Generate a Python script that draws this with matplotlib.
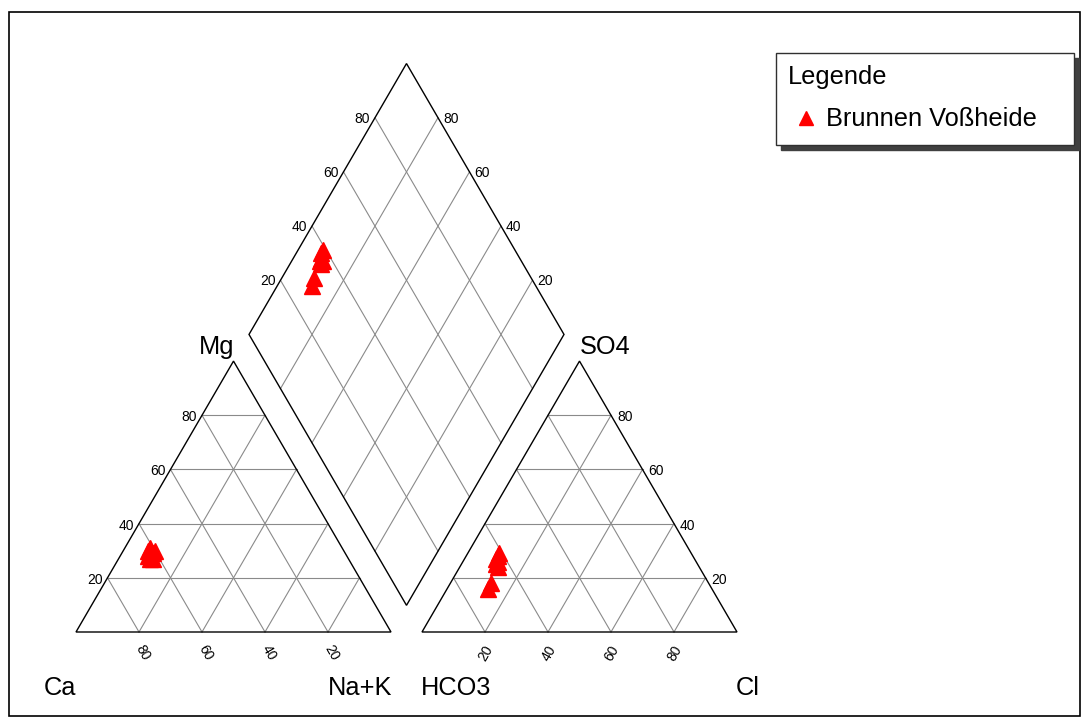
import numpy as np
import matplotlib
matplotlib.use("Agg")
import matplotlib.pyplot as plt
from matplotlib.patches import Rectangle, Polygon
from matplotlib.lines import Line2D

plt.rcParams['font.family'] = ['Liberation Sans', 'DejaVu Sans']

# ---- data (percent of meq) ----
ca   = [62, 61, 62, 63, 61, 60, 62, 63]
mg   = [30, 31, 29, 28, 29, 30, 27, 27]
nak  = [8, 8, 9, 9, 10, 10, 11, 10]
hco3 = [62, 61, 63, 64, 64, 63, 71, 69]
so4  = [28, 29, 26, 25, 24, 27, 16, 18]
cl   = [10, 10, 11, 11, 12, 10, 13, 13]
grid_vals = [20, 40, 60, 80]
series_name = "Brunnen Voßheide"
legend_title = "Legende"

W, H = 1083, 719
fig = plt.figure(figsize=(W / 100, H / 100), dpi=100)
U = 315.0  # pixels per unit
x0px, y0px = 76.0, 632.0
ax = fig.add_axes([0, 0, 1, 1])
ax.set_xlim(-x0px / U, (W - x0px) / U)
ax.set_ylim(-(H - y0px) / U, y0px / U)
ax.axis('off')

h = 0.86
g = 31 / U
ox = 1 + g
db = np.array([1 + g / 2, g * h])


def cat(c, m, n):
    return np.array([(n + m / 2) / 100.0, m / 100.0 * h])


def ani(hc, s, c):
    return np.array([ox + (c + s / 2) / 100.0, s / 100.0 * h])


def dia(a, b):
    a, b = a / 100.0, b / 100.0
    return db + a * np.array([-0.5, h]) + b * np.array([0.5, h])


GC = '#8a8a8a'


def seg(p, q, **kw):
    ax.plot([p[0], q[0]], [p[1], q[1]], **kw)


for v in grid_vals:
    # cation
    seg(cat(100 - v, v, 0), cat(0, v, 100 - v), color=GC, lw=0.8)
    seg(cat(v, 100 - v, 0), cat(v, 0, 100 - v), color=GC, lw=0.8)
    seg(cat(100 - v, 0, v), cat(0, 100 - v, v), color=GC, lw=0.8)
    # anion
    seg(ani(100 - v, v, 0), ani(0, v, 100 - v), color=GC, lw=0.8)
    seg(ani(v, 100 - v, 0), ani(v, 0, 100 - v), color=GC, lw=0.8)
    seg(ani(100 - v, 0, v), ani(0, 100 - v, v), color=GC, lw=0.8)
    # diamond
    seg(dia(v, 0), dia(v, 100), color=GC, lw=0.8)
    seg(dia(0, v), dia(100, v), color=GC, lw=0.8)

for poly in ([cat(100, 0, 0), cat(0, 0, 100), cat(0, 100, 0)],
             [ani(100, 0, 0), ani(0, 0, 100), ani(0, 100, 0)],
             [dia(0, 0), dia(100, 0), dia(100, 100), dia(0, 100)]):
    ax.add_patch(Polygon(poly, closed=True, fill=False, ec='black', lw=1.0, zorder=3))

px = 1 / U
tfs = 10
for v in grid_vals:
    p = cat(100 - v, v, 0)
    ax.text(p[0] - 5 * px, p[1] - 2 * px, str(v), ha='right', va='center', fontsize=tfs)
    p = cat(v, 0, 100 - v)
    ax.text(p[0] + 4 * px, p[1] - 21 * px, str(v), ha='center', va='center', fontsize=tfs, rotation=-60)
    p = ani(100 - v, 0, v)
    ax.text(p[0] + 1 * px, p[1] - 21 * px, str(v), ha='center', va='center', fontsize=tfs, rotation=60)
    p = ani(0, v, 100 - v)
    ax.text(p[0] + 6 * px, p[1] - 2 * px, str(v), ha='left', va='center', fontsize=tfs)
    p = dia(100, v)
    ax.text(p[0] - 5 * px, p[1] - 1 * px, str(v), ha='right', va='center', fontsize=tfs)
    p = dia(v, 100)
    ax.text(p[0] + 5 * px, p[1] - 1 * px, str(v), ha='left', va='center', fontsize=tfs)

# data points
C = np.array([cat(a, b, c) for a, b, c in zip(ca, mg, nak)])
A = np.array([ani(a, b, c) for a, b, c in zip(hco3, so4, cl)])
D = np.array([dia(m + c, s + l) for m, c, s, l in zip(mg, ca, so4, cl)])
for P in (C, A, D):
    ax.plot(P[:, 0], P[:, 1], ls='none', marker='^', ms=11, color='#ff0000',
            mec='#ff0000', zorder=5)

# axis names (figure pixel positions)
def ftext(x, y, s, **kw):
    fig.text(x / W, 1 - y / H, s, **kw)

bfs = 18.3
ftext(217, 347, 'Mg', ha='center', va='center', fontsize=bfs)
ftext(605, 347, 'SO4', ha='center', va='center', fontsize=bfs)
ftext(60, 688, 'Ca', ha='center', va='center', fontsize=bfs)
ftext(360, 688, 'Na+K', ha='center', va='center', fontsize=bfs)
ftext(456, 688, 'HCO3', ha='center', va='center', fontsize=bfs)
ftext(748, 688, 'Cl', ha='center', va='center', fontsize=bfs)

# outer frame
fig.patches.append(Rectangle((9 / W, 1 - 716 / H), (1080 - 9) / W, (716 - 12) / H,
                             transform=fig.transFigure, fill=False, ec='black', lw=1.2))

# legend box with shadow
lx0, ly0, lx1, ly1 = 776, 53, 1074, 145
sh = 5
fig.patches.append(Rectangle(((lx0 + sh) / W, 1 - (ly1 + sh) / H), (lx1 - lx0) / W, (ly1 - ly0) / H,
                             transform=fig.transFigure, fc='#404040', ec='#404040', lw=1, zorder=1))
fig.patches.append(Rectangle((lx0 / W, 1 - ly1 / H), (lx1 - lx0) / W, (ly1 - ly0) / H,
                             transform=fig.transFigure, fc='white', ec='#303030', lw=1, zorder=2))
ftext(788, 77, legend_title, ha='left', va='center', fontsize=bfs, zorder=3)
fig.lines.append(Line2D([806 / W], [1 - 118 / H], transform=fig.transFigure, marker='^',
                        ms=10, color='#ff0000', ls='none', zorder=3))
ftext(826, 119, series_name, ha='left', va='center', fontsize=bfs, zorder=3)

fig.savefig('out.png', dpi=100)
